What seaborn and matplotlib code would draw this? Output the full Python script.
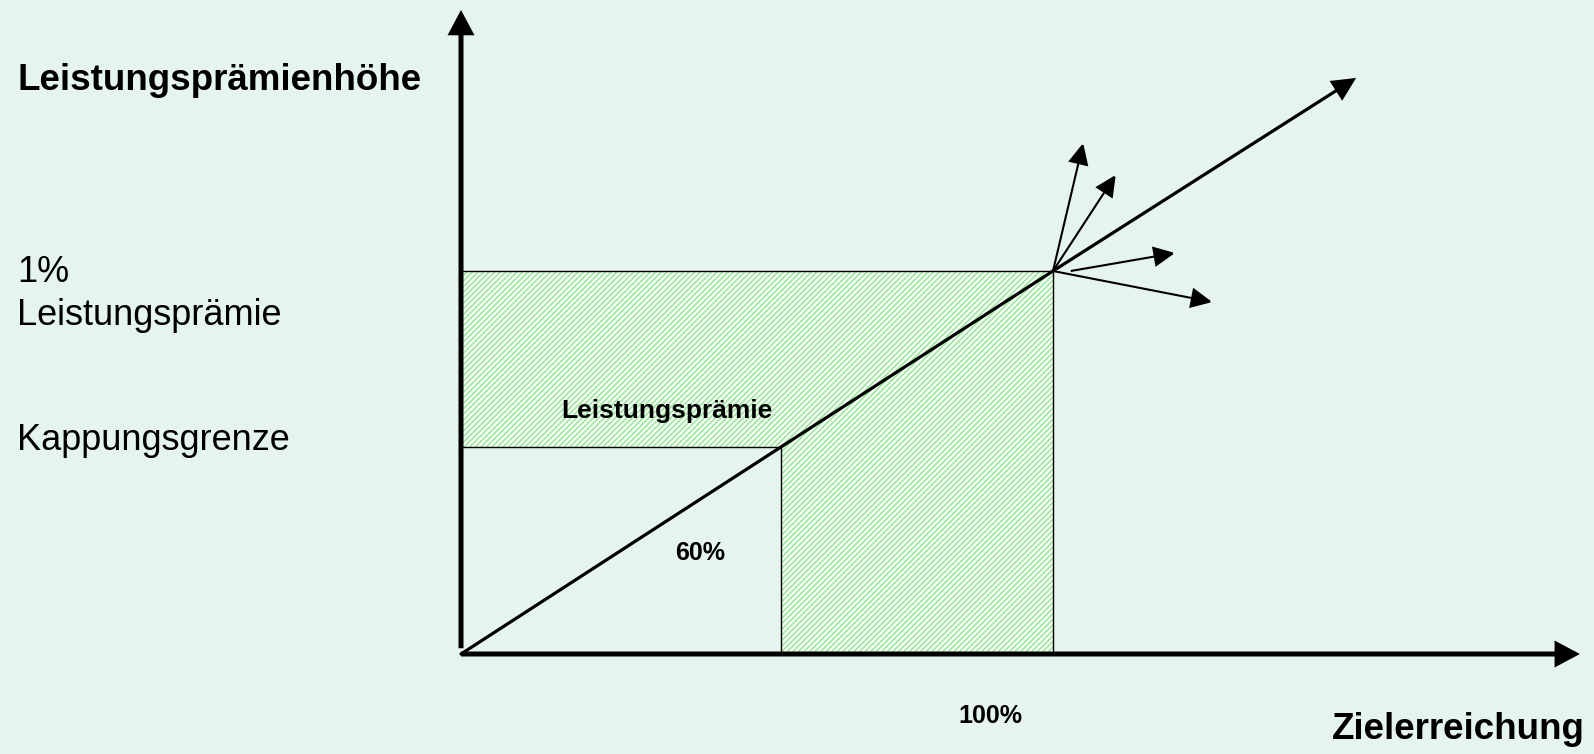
import numpy as np
import pandas as pd
import matplotlib
matplotlib.use('Agg')
import matplotlib.pyplot as plt
import seaborn as sns

# data (x = Zielerreichung in %, y = Prämie, 1.0 = 1% Leistungsprämie)
kappung_x = 54
kappung_y = 0.54
ziel_x = 100
ziel_y = 1.0
diag_x = [0, kappung_x, ziel_x]
diag_y = [0, kappung_y, ziel_y]
diag_tip = (151.2, 1.504)
x_axis_end = 189.0
y_axis_end = 1.6815
# the small arrows coming out of the 100% point
fan_start_x = [100, 100, 103.0, 100]
fan_start_y = [1.0, 1.0, 1.0, 1.0]
fan_tip_x = [105.1, 110.6, 120.6, 126.9]
fan_tip_y = [1.334, 1.251, 1.047, 0.919]

bg = '#e5f4ec'
sns.set_theme(style='white', rc={'figure.facecolor': bg, 'axes.facecolor': bg,
                                  'hatch.color': '#a6e9a6', 'hatch.linewidth': 1.4,
                                  'text.color': 'black'})
plt.rcParams['font.family'] = ['Liberation Sans', 'DejaVu Sans']

fig = plt.figure(figsize=(15.94, 7.54), dpi=100)
ax = fig.add_axes([0, 0, 1, 1])
ax.set_xlim(-461 / 5.92, (1594 - 461) / 5.92)
ax.set_ylim((654 - 754) / 383, 654 / 383)
ax.axis('off')

# hatched L-shaped area
poly_x = [0, ziel_x, ziel_x, kappung_x, kappung_x, 0]
poly_y = [ziel_y, ziel_y, 0, 0, kappung_y, kappung_y]
ax.fill(poly_x, poly_y, facecolor='white', hatch='//////', edgecolor='#a6e9a6', linewidth=0, zorder=1)

# thin frame lines
ax.plot([0, ziel_x], [ziel_y, ziel_y], color='black', lw=1.0, zorder=2)
ax.plot([ziel_x, ziel_x], [0, ziel_y], color='black', lw=1.0, zorder=2)
ax.plot([0, kappung_x], [kappung_y, kappung_y], color='black', lw=1.0, zorder=2)
ax.plot([kappung_x, kappung_x], [0, kappung_y], color='black', lw=1.0, zorder=2)

def arrow(start, tip, lw, ms, hl, hw):
    ax.annotate('', xy=tip, xytext=start,
                arrowprops=dict(arrowstyle=f'-|>,head_length={hl},head_width={hw}', lw=lw,
                                color='black', mutation_scale=ms, shrinkA=0, shrinkB=0,
                                joinstyle='miter', capstyle='butt'), zorder=4)

# diagonal
df = pd.DataFrame({'x': diag_x, 'y': diag_y})
sns.lineplot(data=df, x='x', y='y', color='black', lw=2.3, ax=ax, zorder=3)
arrow((ziel_x, ziel_y), diag_tip, 2.3, 30, 0.45, 0.22)

# axes
arrow((0, 0), (x_axis_end, 0), 3.6, 28, 0.45, 0.24)
arrow((0, 0.015), (0, y_axis_end), 3.6, 28, 0.45, 0.24)

# fan of arrows
for sx, sy, tx, ty in zip(fan_start_x, fan_start_y, fan_tip_x, fan_tip_y):
    arrow((sx, sy), (tx, ty), 1.5, 26, 0.5, 0.24)

W, H = 1594, 754
def px(x, y):
    return x / W, 1 - y / H

fig.text(*px(17, 90), 'Leistungsprämienhöhe', fontsize=26.5, fontweight='bold', va='baseline')
fig.text(*px(17, 282), '1%', fontsize=26, va='baseline')
fig.text(*px(17, 325), 'Leistungsprämie', fontsize=26, va='baseline')
fig.text(*px(17, 450), 'Kappungsgrenze', fontsize=26, va='baseline')
fig.text(*px(561, 418), 'Leistungsprämie', fontsize=19, fontweight='bold', va='baseline')
fig.text(*px(700, 560), '60%', fontsize=18, fontweight='bold', va='baseline', ha='center')
fig.text(*px(990, 723), '100%', fontsize=18, fontweight='bold', va='baseline', ha='center')
fig.text(*px(1585, 739), 'Zielerreichung', fontsize=26.5, fontweight='bold', va='baseline', ha='right')

fig.savefig('out.png', dpi=100, facecolor=bg)
